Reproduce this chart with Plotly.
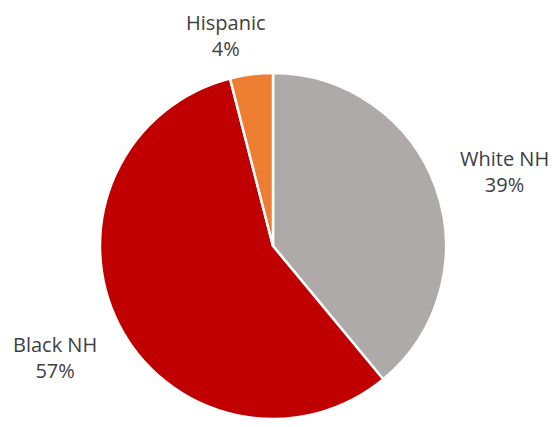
import plotly.graph_objects as go

labels = ["White NH", "Black NH", "Hispanic"]
values = [39, 57, 4]
colors = ["#ADAAA9", "#C00000", "#ED7D31"]
# label block centres (screen pixels in the 556x427 window)
label_pos = {"White NH": (504, 172), "Black NH": (55, 357), "Hispanic": (226, 35)}

OFF = 8  # default page body margin
W, H = 556 - OFF, 427 - 2 * OFF


def px_x(x):
    return (x - OFF) / W


def px_y(y):
    return 1 - (y - OFF) / H


fig = go.Figure(go.Pie(
    labels=labels,
    values=values,
    sort=False,
    direction="clockwise",
    rotation=0,
    marker=dict(colors=colors, line=dict(color="white", width=2.5)),
    textinfo="none",
    hoverinfo="label+percent",
    showlegend=False,
    domain=dict(x=[px_x(100), px_x(446)], y=[px_y(419), px_y(73)]),
))

total = sum(values)
for lab, val in zip(labels, values):
    px, py = label_pos[lab]
    fig.add_annotation(
        x=px_x(px), y=px_y(py), xref="paper", yref="paper",
        text=f"{lab}<br>{round(100*val/total)}%",
        showarrow=False, xanchor="center", yanchor="middle",
        font=dict(family="Open Sans", size=20, color="#404040"),
    )

fig.update_layout(
    width=W, height=H,
    margin=dict(l=0, r=0, t=0, b=0),
    paper_bgcolor="white",
    plot_bgcolor="white",
)
fig.write_html("out.html")
